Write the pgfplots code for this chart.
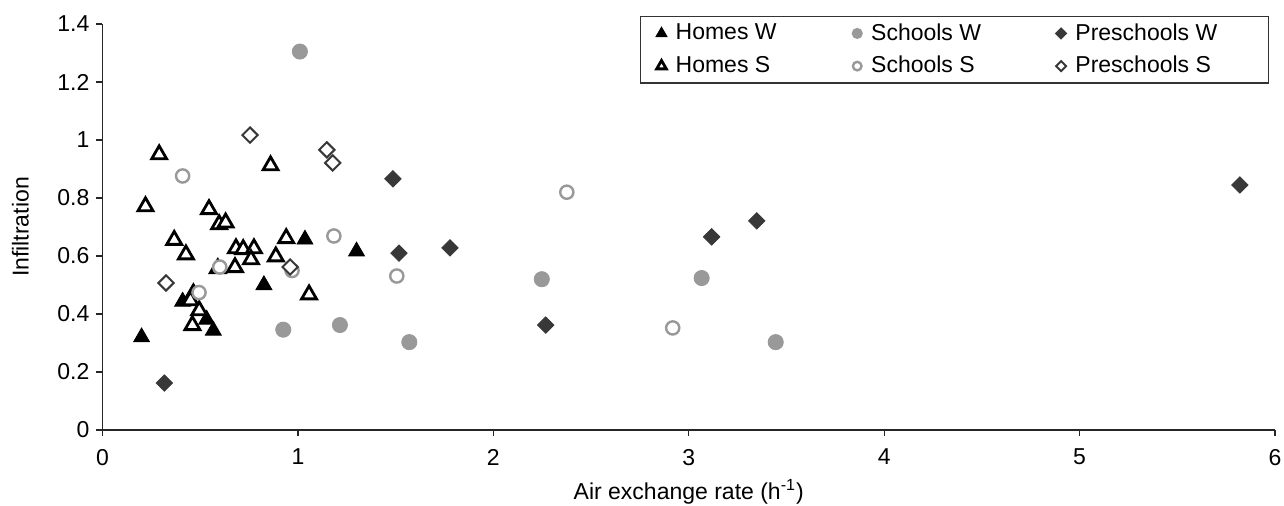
\documentclass[border=0pt]{standalone}
\usepackage{pgfplots}
\pgfplotsset{compat=1.18}
\usepackage{fontspec}
\setmainfont{Liberation Sans}
\definecolor{schoolgray}{HTML}{999999}
\definecolor{predark}{HTML}{383838}
\begin{document}
\begin{tikzpicture}
\begin{axis}[
  scale only axis,
  width=586.25pt, height=203pt,
  xmin=0, xmax=6, ymin=0, ymax=1.4,
  axis x line*=bottom, axis y line*=left,
  axis line style={-, line width=0.7pt, color=black!85},
  xtick={0,1,2,3,4,5,6},
  ytick={0,0.2,0.4,0.6,0.8,1,1.2,1.4},
  tick align=outside,
  major tick length=3pt,
  tick style={line width=0.6pt, color=black!85},
  /pgf/number format/assume math mode=true,
  tick label style={font=\fontsize{11.5pt}{13pt}\selectfont},
  xticklabel style={yshift=-3pt},
  xlabel={Air exchange rate (h\textsuperscript{-1})},
  ylabel={Infiltration},
  every axis y label/.style={at={(axis description cs:-0.07,0.5)}, rotate=90, anchor=center, font=\fontsize{11.5pt}{13pt}\selectfont},
  every axis x label/.style={at={(axis description cs:0.5,0)}, yshift=-31pt, anchor=center, font=\fontsize{11.5pt}{13pt}\selectfont},
  legend columns=3,
  legend image code/.code={\draw[#1, every mark/.append style={scale=0.65}] plot coordinates {(0pt,0pt)};},
  legend style={
    at={(axis description cs:0.9949,1.0197)}, anchor=north east,
    draw=black!80, line width=0.6pt,
    font=\fontsize{11.5pt}{13pt}\selectfont,
    inner xsep=8pt, inner ysep=1.5pt,
    row sep=2.5pt,
    cells={anchor=west},
  },
  clip=false,
]
% Homes W
\addplot[only marks, mark=triangle*, mark size=4.6pt, color=black, mark options={fill=black}] coordinates {
(0.20,0.320) (0.41,0.443) (0.465,0.475) (0.533,0.381) (0.567,0.343) (0.826,0.500) (1.036,0.657) (1.30,0.616)
};
\addlegendentry{\makebox[88.8pt][l]{\hspace{2.5pt}Homes W}}
% Schools W
\addplot[only marks, mark=*, mark size=3.8pt, color=schoolgray, mark options={fill=schoolgray}] coordinates {
(1.01,1.305) (0.925,0.346) (1.215,0.362) (1.57,0.303) (2.248,0.52) (3.066,0.524) (3.445,0.303)
};
\addlegendentry{\makebox[92.8pt][l]{\hspace{2.5pt}Schools W}}
% Preschools W
\addplot[only marks, mark=square*, mark size=2.9pt, color=predark, mark options={fill=predark, rotate=45}] coordinates {
(0.317,0.162) (1.486,0.866) (1.517,0.61) (1.778,0.628) (2.268,0.362) (3.117,0.666) (3.348,0.721) (5.82,0.845)
};
\addlegendentry{\makebox[89pt][l]{\hspace{2.5pt}Preschools W}}
% Homes S
\addplot[only marks, mark=triangle*, mark size=4.3pt, color=black, mark options={fill=white, line width=1.4pt}] coordinates {
(0.29,0.950) (0.86,0.912) (0.22,0.771) (0.545,0.761) (0.597,0.709) (0.63,0.715) (0.367,0.655) (0.427,0.605)
(0.94,0.661) (0.683,0.626) (0.72,0.623) (0.775,0.626) (0.76,0.588) (0.887,0.598) (0.678,0.561) (0.59,0.557)
(0.45,0.447) (0.495,0.412) (0.46,0.361) (1.057,0.467)
};
\addlegendentry{\makebox[88.8pt][l]{\hspace{2.5pt}Homes S}}
% Schools S
\addplot[only marks, mark=*, mark size=3.3pt, color=schoolgray, mark options={fill=white, line width=1.2pt}] coordinates {
(0.41,0.876) (0.60,0.562) (0.494,0.474) (0.97,0.55) (1.184,0.669) (1.506,0.531) (2.376,0.82) (2.918,0.352)
};
\addlegendentry{\makebox[92.8pt][l]{\hspace{2.5pt}Schools S}}
% Preschools S
\addplot[only marks, mark=square*, mark size=2.7pt, color=predark, mark options={fill=white, rotate=45, line width=1pt}] coordinates {
(0.325,0.507) (0.755,1.017) (1.148,0.966) (1.178,0.921) (0.96,0.562)
};
\addlegendentry{\makebox[89pt][l]{\hspace{2.5pt}Preschools S}}
\end{axis}
\pgfresetboundingbox
\path[use as bounding box] (-51.25pt,-37.5pt) rectangle (590.75pt,215pt);
\end{tikzpicture}
\end{document}
